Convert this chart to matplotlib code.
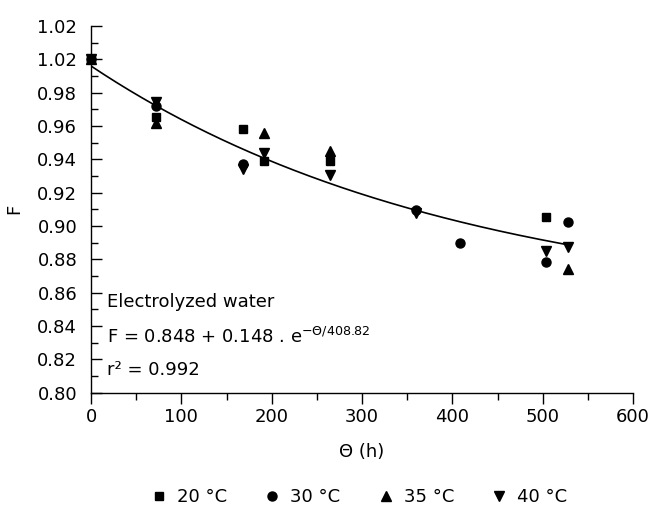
import numpy as np
import matplotlib
matplotlib.use("Agg")
import matplotlib.pyplot as plt
from matplotlib.ticker import MultipleLocator, FixedLocator, FixedFormatter

plt.rcParams['font.family'] = ['DejaVu Sans']
plt.rcParams['mathtext.fontset'] = 'dejavusans'

# Data (time in h, moisture ratio F)
t20 = [0, 72, 168, 192, 264, 504]
f20 = [1.000, 0.9655, 0.958, 0.939, 0.939, 0.9055]
t30 = [0, 72, 168, 360, 408, 504, 528]
f30 = [1.000, 0.972, 0.937, 0.9095, 0.890, 0.8785, 0.9025]
t35 = [0, 72, 192, 264, 528]
f35 = [1.000, 0.9615, 0.9555, 0.945, 0.874]
t40 = [0, 72, 168, 192, 264, 360, 504, 528]
f40 = [1.000, 0.9745, 0.934, 0.944, 0.9305, 0.9075, 0.885, 0.8875]

# Fit parameters
fit_a, fit_b, fit_tau = 0.848, 0.148, 408.82

ytick_vals = [0.80, 0.82, 0.84, 0.86, 0.88, 0.90, 0.92, 0.94, 0.96, 0.98, 1.00, 1.02]
ytick_labels = ["0.80", "0.82", "0.84", "0.86", "0.88", "0.90", "0.92", "0.94",
                "0.96", "0.98", "1.02", "1.02"]
xtick_vals = [0, 100, 200, 300, 400, 500, 600]

FS = 13

fig = plt.figure(figsize=(6.52, 5.07), dpi=100)
ax = fig.add_axes([0.1396, 0.2257, 0.8314, 0.7230])

ms = 6.5
l1, = ax.plot(t20, f20, 's', color='black', ms=ms*0.9, label='20 °C', clip_on=False)
l2, = ax.plot(t30, f30, 'o', color='black', ms=ms, label='30 °C', clip_on=False)
l3, = ax.plot(t35, f35, '^', color='black', ms=ms, label='35 °C', clip_on=False)
l4, = ax.plot(t40, f40, 'v', color='black', ms=ms, label='40 °C', clip_on=False)

tt = np.linspace(0, 528, 300)
ax.plot(tt, fit_a + fit_b * np.exp(-tt / fit_tau), color='black', lw=1.2)

ax.set_xlim(0, 600)
ax.set_ylim(0.80, 1.02)
ax.xaxis.set_major_locator(FixedLocator(xtick_vals))
ax.xaxis.set_minor_locator(MultipleLocator(50))
ax.yaxis.set_major_locator(FixedLocator(ytick_vals))
ax.yaxis.set_major_formatter(FixedFormatter(ytick_labels))
ax.yaxis.set_minor_locator(MultipleLocator(0.01))

for s in ['top', 'right']:
    ax.spines[s].set_visible(False)
for s in ['left', 'bottom']:
    ax.spines[s].set_linewidth(1.0)

ax.tick_params(axis='x', which='major', direction='out', length=8, width=1.0, labelsize=FS, pad=3)
ax.tick_params(axis='x', which='minor', direction='out', length=5, width=1.0)
ax.tick_params(axis='y', which='major', direction='in', length=8, width=1.0, labelsize=FS, pad=10)
ax.tick_params(axis='y', which='minor', direction='in', length=5, width=1.0)

ax.set_xlabel('Θ (h)', fontsize=FS, labelpad=12)
ax.set_ylabel('F', fontsize=FS, labelpad=10)

ax.text(18, 0.8545, 'Electrolyzed water', fontsize=FS, va='center', ha='left')
ax.text(18, 0.8335, r'F = 0.848 + 0.148 . e$\mathregular{^{-Θ/408.82}}$', fontsize=FS, va='center', ha='left')
ax.text(18, 0.8135, 'r² = 0.992', fontsize=FS, va='center', ha='left')

fig.legend(handles=[l1, l2, l3, l4], loc='center', bbox_to_anchor=(0.55, 0.02),
           ncol=4, frameon=False, fontsize=FS, handletextpad=0.5, columnspacing=2.0,
           handlelength=1.0)

fig.savefig('out.png', dpi=100)
